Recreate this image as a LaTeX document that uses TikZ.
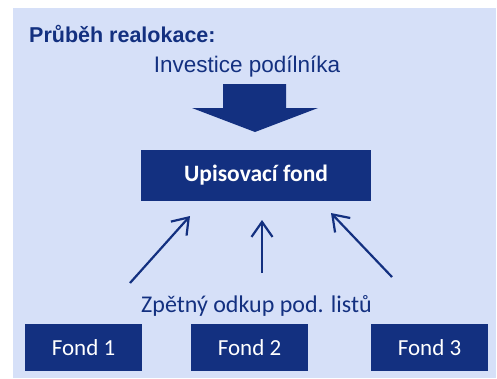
\documentclass[tikz,border=0pt]{standalone}
\usepackage{fontspec}
\setmainfont{Liberation Sans}
\newfontfamily\calib{Carlito}
\usetikzlibrary{arrows.meta}
\definecolor{navy}{RGB}{19,48,128}
\definecolor{bgblue}{RGB}{214,224,248}
\tikzset{
  fundbox/.style={fill=navy, text=white, inner sep=0pt, font=\calib\fontsize{23}{27}\selectfont},
  upline/.style={draw=navy, line width=2.2pt, -{Straight Barb[length=15pt,width=21pt,line width=2.2pt]}},
  lbl/.style={text=navy, inner sep=0pt, anchor=base}
}
\begin{document}
\begin{tikzpicture}[x=1pt,y=-1pt]
\useasboundingbox (0,0) rectangle (497,378);
\fill[bgblue] (13,8) rectangle (496,378);
\node[lbl, anchor=base west, font=\bfseries\fontsize{21.5}{24}\selectfont] (title) at (29,42) {Průběh realokace:};
\node[lbl, font=\fontsize{22.5}{26}\selectfont] (inv) at (247,72) {Investice podílníka};
\fill[navy] (223,84) -- (286,84) -- (286,108) -- (318,108) -- (255,132) -- (192,108) -- (223,108) -- cycle;
\node[fundbox, minimum width=230pt, minimum height=51pt, font=\calib\bfseries\fontsize{23.5}{27}\selectfont] (up) at (256,175.5) {Upisovací fond};
\node[lbl, font=\calib\fontsize{24}{28}\selectfont] (zp) at (256.5,312) {Zpětný odkup pod. listů};
\node[fundbox, minimum width=117pt, minimum height=47pt] (f1) at (83.5,347.5) {Fond 1};
\node[fundbox, minimum width=117pt, minimum height=47pt] (f2) at (249.5,347.5) {Fond 2};
\node[fundbox, minimum width=117pt, minimum height=47pt] (f3) at (429.5,347.5) {Fond 3};
\coordinate (t1) at (130,283);
\coordinate (h1) at (190,216);
\coordinate (t2) at (262,273);
\coordinate (h2) at (262,220);
\coordinate (t3) at (392,277);
\coordinate (h3) at (331,213);
\draw[upline] (t1) -- (h1);
\draw[upline] (t2) -- (h2);
\draw[upline] (t3) -- (h3);
\end{tikzpicture}
\end{document}
